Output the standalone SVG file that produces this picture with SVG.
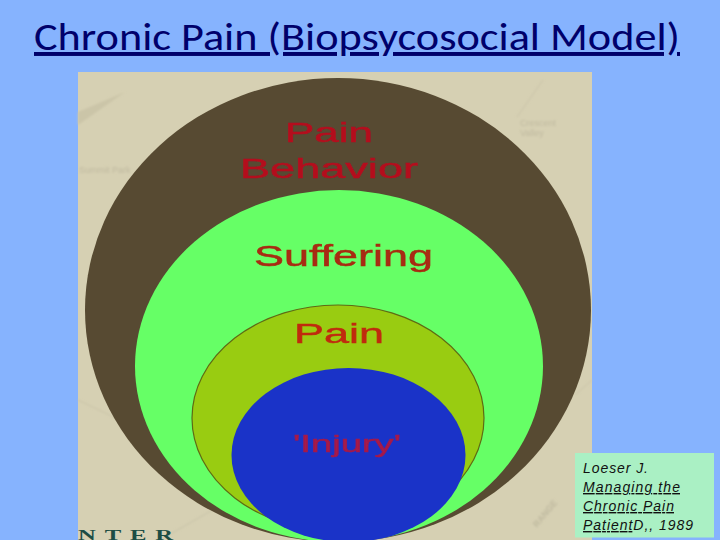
<svg xmlns="http://www.w3.org/2000/svg" width="720" height="540" viewBox="0 0 720 540">
<style>
.lbl{font-family:"Liberation Sans",Arial,sans-serif;text-anchor:middle;stroke-width:.5}
.cite{font-family:"Liberation Sans",Arial,sans-serif;font-size:14px;font-style:italic;fill:#111}
.u{text-decoration:underline;text-decoration-skip-ink:none;text-decoration-thickness:1.5px}
.map{font-family:"Liberation Sans",Arial,sans-serif;fill:#bfb99f;font-size:9px;stroke:none}
</style>
<defs><filter id="b"><feGaussianBlur stdDeviation="0.8"/></filter><filter id="s"><feGaussianBlur stdDeviation="0.35"/></filter></defs>
<rect width="720" height="540" fill="#86b3fe"/>
<text x="34" y="50" font-family="Carlito,Lato,'Open Sans',sans-serif" font-size="39.500" fill="#00006b" textLength="646" lengthAdjust="spacingAndGlyphs" style="text-decoration:underline;text-decoration-skip-ink:none;text-decoration-thickness:2.5px;text-underline-offset:3px">Chronic Pain (Biopsycosocial Model)</text>
<g id="map">
<rect x="78" y="72" width="514" height="468" fill="#d6d0b3"/>
<g filter="url(#b)" stroke="#c8c2a7" fill="none">
<path d="M78 125L125 92L78 112Z" fill="#cbc5a8" stroke="none"/>
<path d="M543 80L517 117M78 400L330 520M160 540L230 500M575 395L592 380"/>
<text class="map" x="520" y="126">Crescent</text>
<text class="map" x="520" y="136">Valley</text>
<text class="map" x="79" y="173">Summit Park</text>
<text class="map" x="0" y="0" font-weight="bold" transform="translate(537 528) rotate(-50)">RANGE</text>
</g>
<text x="78" y="540" font-family="'Liberation Serif',serif" font-size="14" font-weight="bold" fill="#1d4d44" letter-spacing="5" textLength="104" lengthAdjust="spacingAndGlyphs">NTER</text>
</g>
<g id="pain-behavior"><ellipse cx="338" cy="310" rx="253" ry="232" fill="#574a32"/>
<g filter="url(#s)" fill="#b40d1e" stroke="#b40d1e"><text class="lbl" font-size="28" x="329" y="142" textLength="88" lengthAdjust="spacingAndGlyphs">Pain</text><text class="lbl" font-size="28" x="329" y="178" textLength="178" lengthAdjust="spacingAndGlyphs">Behavior</text></g></g>
<g id="suffering"><ellipse cx="339" cy="366" rx="204" ry="176" fill="#66ff66"/><text class="lbl" filter="url(#s)" fill="#a82a12" stroke="#a82a12" font-size="29" x="343.500" y="266" textLength="179" lengthAdjust="spacingAndGlyphs">Suffering</text></g>
<g id="pain"><ellipse cx="338" cy="418" rx="146" ry="113" fill="#99cc11" stroke="#5f6a14" stroke-width="1.2"/><text class="lbl" filter="url(#s)" fill="#c02a10" stroke="#c02a10" font-size="28" x="339" y="343" textLength="90" lengthAdjust="spacingAndGlyphs">Pain</text></g>
<g id="injury"><ellipse cx="348.500" cy="455" rx="117" ry="87" fill="#1a33c8"/><text class="lbl" filter="url(#s)" fill="#a51a4a" stroke="#a51a4a" font-size="24" x="347" y="452" textLength="108" lengthAdjust="spacingAndGlyphs">'Injury'</text></g>
<g id="citation"><rect x="575" y="453" width="139" height="84.500" fill="#aaf0c4"/>
<text class="cite" x="583" y="473" textLength="65">Loeser J.</text>
<text class="cite u" x="583" y="492" textLength="97">Managing the</text>
<text class="cite u" x="583" y="511" textLength="91">Chronic Pain</text>
<text class="cite" x="583" y="530" textLength="110"><tspan class="u">Patient</tspan>D,, 1989</text></g>
<g id="connectors"/>
</svg>
